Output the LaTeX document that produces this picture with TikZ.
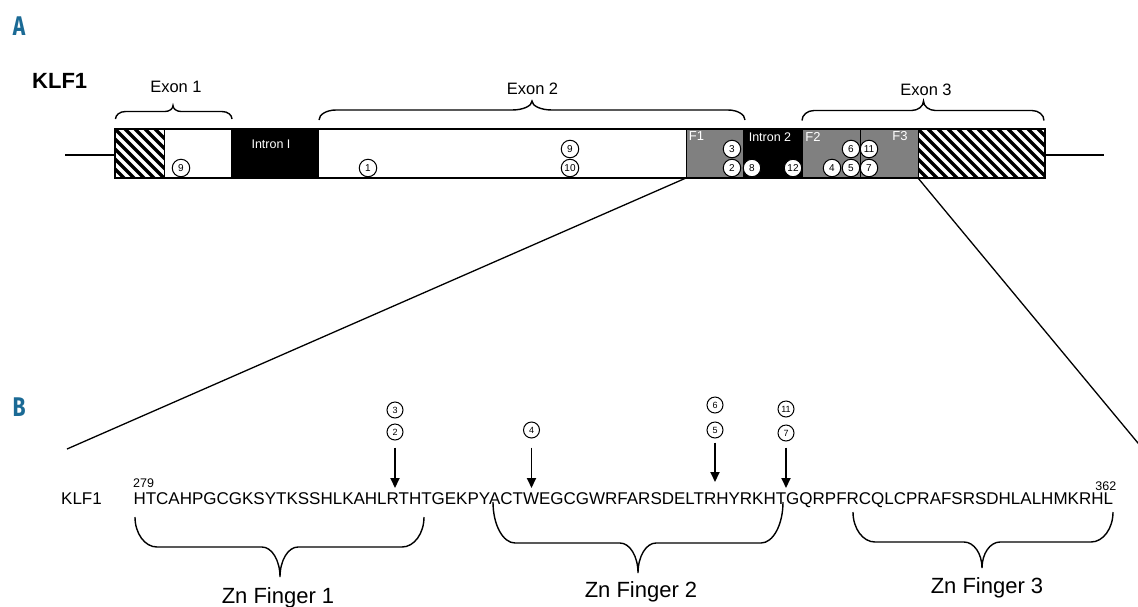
\documentclass[tikz,border=0pt]{standalone}
\usepackage{fontspec}
\setmainfont{Liberation Sans}
\newfontfamily\panelfont{Fira Sans}[FakeStretch=0.78]
\usetikzlibrary{arrows.meta}
\definecolor{panelblue}{HTML}{1B6A95}
\definecolor{fgray}{HTML}{808080}
% curly brace: x1, x2, xm, y of ends, y of straight part, y of tip, end radius, tip radius
\newcommand\mybrace[8]{%
  \draw[brace] (#1,#4) .. controls (#1,{#4+0.552*(#5-#4)}) and ({#1+0.448*#7},#5) .. ({#1+#7},#5)
  -- ({#3-#8},#5) .. controls ({#3-0.448*#8},#5) and (#3,{#6-0.552*(#6-#5)}) .. (#3,#6)
  .. controls (#3,{#6-0.552*(#6-#5)}) and ({#3+0.448*#8},#5) .. ({#3+#8},#5)
  -- ({#2-#7},#5) .. controls ({#2-0.448*#7},#5) and (#2,{#4+0.552*(#5-#4)}) .. (#2,#4);}
\begin{document}
\begin{tikzpicture}[x=1pt,y=-1pt,
  panel/.style={font=\panelfont\bfseries\fontsize{27}{27}\selectfont, text=panelblue, inner sep=0},
  lbl/.style={inner sep=0, font=\fontsize{16.5}{16.5}\selectfont},
  wlbl/.style={inner sep=0, text=white, font=\fontsize{12.5}{12.5}\selectfont},
  barmut/.style={circle, draw, fill=white, line width=1, minimum size=17.5pt, inner sep=0, font=\fontsize{10}{10}\selectfont},
  seqmut/.style={circle, draw, fill=white, line width=1, minimum size=16pt, inner sep=0, font=\fontsize{9}{9}\selectfont},
  hatch/.style={line width=3.2},
  brace/.style={line width=1.4},
  mutarrow/.style={-{Triangle[length=10pt,width=9pt]}, line width=1.8},
  seq/.style={inner sep=0, font=\fontsize{17}{17}\selectfont},
  small/.style={inner sep=0, font=\fontsize{12.5}{12.5}\selectfont},
  zn/.style={inner sep=0, font=\fontsize{22}{22}\selectfont}
]
\useasboundingbox (0,0) rectangle (1138,606);
\clip (0,0) rectangle (1138,606);

% panel labels
\node[panel] (pA) at (19,26.5) {A};
\node[panel] (pB) at (19,407.5) {B};

\node[inner sep=0, anchor=base west, font=\bfseries\fontsize{22}{22}\selectfont] (klfA) at (32,88) {KLF1};

% flanking lines
\coordinate (barL) at (115,155);
\coordinate (barR) at (1045,155);
\coordinate (lineL) at (65,155);
\coordinate (lineR) at (1104,155);
\draw[line width=1.2] (lineL) -- (barL);
\draw[line width=1.2] (barR) -- (lineR);

% gene bar fills
\fill[black] (231,129) rectangle (319,178);
\fill[fgray] (686,129) rectangle (743,178);
\fill[black] (743,129) rectangle (803,178);
\fill[fgray] (803,129) rectangle (918,178);

% hatching
\begin{scope}
  \clip (115,129) rectangle (164,178);
  \foreach \k in {-6,...,5} \draw[hatch] (115+10*\k-6,123) -- (115+10*\k+55,184);
\end{scope}
\begin{scope}
  \clip (918,129) rectangle (1045,178);
  \foreach \k in {-6,...,13} \draw[hatch] (918+10*\k-6,123) -- (918+10*\k+55,184);
\end{scope}

% outlines and dividers
\draw[line width=1] (164,129) -- (164,178);
\draw[line width=1] (686,129) -- (686,178);
\draw[line width=1] (860,129) -- (860,178);
\draw[line width=1] (918,129) -- (918,178);
\draw[line width=1.5] (115,129) rectangle (1045,178);

% labels in bar
\node[wlbl] (in1) at (271,144.5) {Intron I};
\node[wlbl] (in2) at (770,137) {Intron 2};
\node[wlbl, font=\fontsize{13}{13}\selectfont] (f1) at (696.5,136.5) {F1};
\node[wlbl, font=\fontsize{13}{13}\selectfont] (f2) at (813,136.5) {F2};
\node[wlbl, font=\fontsize{13}{13}\selectfont] (f3) at (900,136.5) {F3};

% mutations on gene bar
\node[barmut] (g9a) at (181,168) {9};
\node[barmut] (g1) at (368,168) {1};
\node[barmut] (g9b) at (570,149) {9};
\node[barmut] (g10) at (570,168) {10};
\node[barmut] (g3) at (732,149) {3};
\node[barmut] (g2) at (732,168) {2};
\node[barmut] (g8) at (752,168) {8};
\node[barmut] (g12) at (793,168) {12};
\node[barmut] (g4) at (832,168) {4};
\node[barmut] (g5) at (851,168) {5};
\node[barmut] (g7) at (869,168) {7};
\node[barmut] (g6) at (851,149) {6};
\node[barmut] (g11) at (869,149) {11};

% exon braces
\mybrace{115.5}{232}{173}{119}{111.5}{105.5}{10}{8}
\mybrace{319}{745}{532}{120}{110}{101}{17}{20}
\mybrace{802}{1044}{923.5}{120.5}{110.5}{101}{12}{12}
\node[lbl] (ex1) at (176,87) {Exon 1};
\node[lbl] (ex2) at (532.5,89) {Exon 2};
\node[lbl] (ex3) at (926,89.5) {Exon 3};

% expansion lines
\coordinate (f1bl) at (686,178);
\coordinate (f3br) at (918,178);
\coordinate (expL) at (67,449);
\coordinate (expR) at (1145,451.5);
\draw[line width=1.3] (f1bl) -- (expL);
\draw[line width=1.3] (f3br) -- (expR);

% sequence
\node[seq, anchor=base west] (klfB) at (61,504) {KLF1};
\node[seq, anchor=base west] (sq) at (133.3,504) {HTCAHPGCGKSYTKSSHLKAHLRTHTGEKPYACTWEGCGWRFARSDELTRHYRKHTGQRPFRCQLCPRAFSRSDHLALHMKRHL};
\node[small, anchor=base west] (n279) at (133,487) {279};
\node[small, anchor=base east] (n362) at (1116.5,490) {362};

% mutations on sequence
\node[seqmut] (s3) at (395,410) {3};
\node[seqmut] (s2) at (395,432) {2};
\node[seqmut] (s4) at (531.5,430) {4};
\node[seqmut] (s6) at (715,405) {6};
\node[seqmut] (s5) at (715,430) {5};
\node[seqmut] (s11) at (786,409) {11};
\node[seqmut] (s7) at (786,433) {7};
\coordinate (t1) at (395,488);
\coordinate (t2) at (531.5,488);
\coordinate (t3) at (715,482);
\coordinate (t4) at (786,488);
\draw[mutarrow] ([yshift=-7pt]s2.south) -- (t1);
\draw[mutarrow] ([yshift=-9pt]s4.south) -- (t2);
\draw[mutarrow] ([yshift=-4pt]s5.south) -- (t3);
\draw[mutarrow] ([yshift=-6pt]s7.south) -- (t4);

% zinc finger braces
\mybrace{135}{424}{280}{517}{547}{577}{22}{18}
\mybrace{493}{783}{638}{502}{543}{573}{22}{18}
\mybrace{853}{1113}{982}{512}{542}{568}{22}{18}
\node[zn, anchor=base] (zn1) at (278,603) {Zn Finger 1};
\node[zn, anchor=base] (zn2) at (641,597) {Zn Finger 2};
\node[zn, anchor=base] (zn3) at (987,593) {Zn Finger 3};
\end{tikzpicture}
\end{document}
